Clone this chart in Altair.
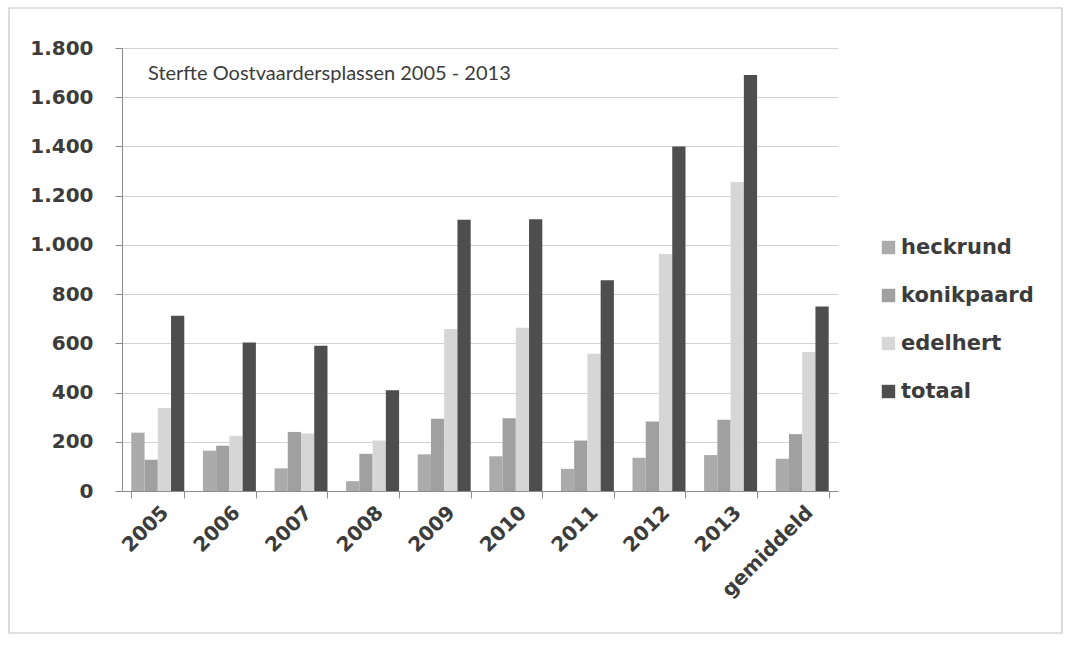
import altair as alt
import pandas as pd

# Deaths of large grazers in the Oostvaardersplassen, per year and the average
categories = ["2005", "2006", "2007", "2008", "2009", "2010", "2011", "2012", "2013", "gemiddeld"]
series = ["heckrund", "konikpaard", "edelhert", "totaal"]

heckrund = [237, 164, 92, 40, 149, 141, 90, 135, 146, 131]
konikpaard = [127, 184, 240, 151, 294, 296, 205, 282, 290, 231]
edelhert = [337, 224, 234, 205, 658, 663, 558, 963, 1256, 565]
totaal = [712, 603, 590, 409, 1102, 1104, 856, 1400, 1690, 750]

y_ticks = [0, 200, 400, 600, 800, 1000, 1200, 1400, 1600, 1800]
colors = ["#ababab", "#a0a0a0", "#d6d6d6", "#4e4e4e"]

title_text = "Sterfte Oostvaardersplassen 2005 - 2013"

rows = []
for name, vals in zip(series, [heckrund, konikpaard, edelhert, totaal]):
    for cat, v in zip(categories, vals):
        rows.append({"jaar": cat, "soort": name, "aantal": v})
df = pd.DataFrame(rows)

FONT = "DejaVu Sans"
TEXT = "#3c3c3c"
W, H = 716, 443

# light frame around the whole chart
frame = alt.Chart(alt.Data(values=[{}])).mark_rect(
    fillOpacity=0, stroke="#c4c4c4", strokeWidth=1.2
).encode(
    x=alt.value(-113), x2=alt.value(940), y=alt.value(-40), y2=alt.value(585)
)

bars = alt.Chart(df).mark_bar().encode(
    x=alt.X(
        "jaar:N",
        sort=categories,
        scale=alt.Scale(paddingInner=0.26, paddingOuter=0.13),
        axis=alt.Axis(
            title=None,
            labelAngle=-45,
            labelFont=FONT,
            labelFontSize=20,
            labelFontWeight="bold",
            labelColor=TEXT,
            labelPadding=4,
            tickBand="extent",
            tickSize=7,
            tickColor="#8c8c8c",
            domainColor="#8c8c8c",
            grid=False,
        ),
    ),
    xOffset=alt.XOffset(
        "soort:N", sort=series, scale=alt.Scale(paddingInner=0, paddingOuter=0)
    ),
    y=alt.Y(
        "aantal:Q",
        scale=alt.Scale(domain=[0, 1800], nice=False),
        axis=alt.Axis(
            title=None,
            values=y_ticks,
            labelExpr="replace(format(datum.value, ','), ',', '.')",
            labelFont=FONT,
            labelFontSize=20,
            labelFontWeight="bold",
            labelColor=TEXT,
            labelPadding=22,
            tickSize=7,
            tickColor="#8c8c8c",
            domainColor="#8c8c8c",
            gridColor="#d2d2d2",
            gridWidth=1,
        ),
    ),
    color=alt.Color(
        "soort:N",
        sort=series,
        scale=alt.Scale(domain=series, range=colors),
        legend=alt.Legend(
            title=None,
            orient="none",
            legendX=756,
            legendY=189,
            symbolType="square",
            symbolSize=180,
            symbolStrokeWidth=0,
            labelFont=FONT,
            labelFontSize=21,
            labelFontWeight="bold",
            labelColor=TEXT,
            labelOffset=2,
            rowPadding=26,
            padding=0,
        ),
    ),
)

chart = alt.layer(frame, bars).properties(
    width=W,
    height=H,
    title=alt.TitleParams(
        text=title_text,
        anchor="start",
        frame="group",
        orient="top",
        dx=26,
        dy=77,
        offset=0,
        font="Lato",
        fontSize=20,
        fontWeight="normal",
        color=TEXT,
    ),
    autosize=alt.AutoSizeParams(type="none"),
    padding={"left": 122, "top": 48, "right": 232, "bottom": 156},
    background="white",
).configure_view(stroke=None)

chart.save("out.html", embed_options={"renderer": "svg", "actions": False})
